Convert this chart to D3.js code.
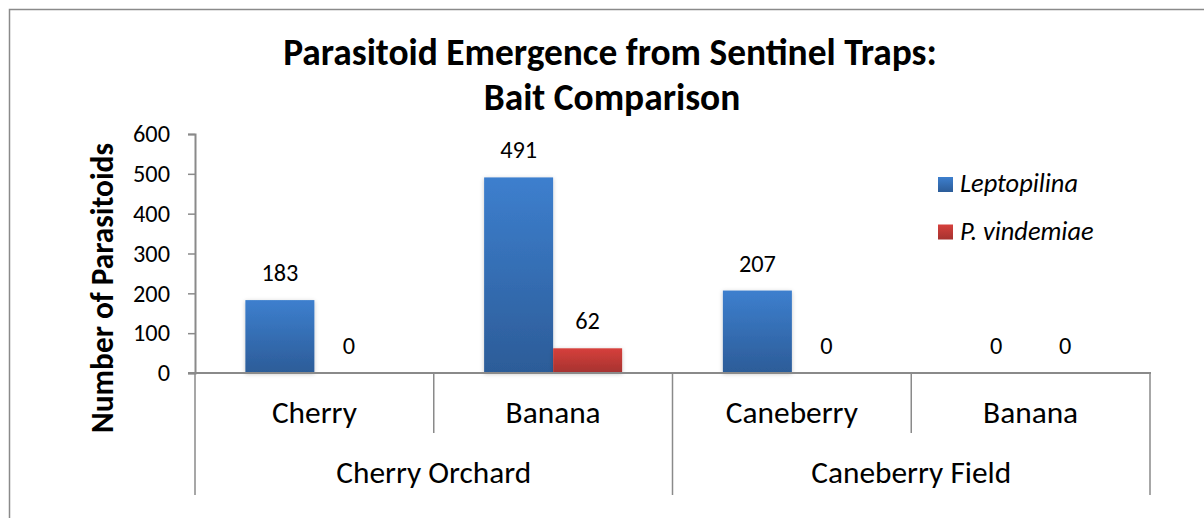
<!DOCTYPE html>
<meta charset="utf-8">
<style>

body {
  margin: 0;
  background: #fff;
}

text {
  font-family: Carlito, Calibri, Lato, sans-serif;
  fill: #000;
}

</style>
<svg></svg>
<script src="https://d3js.org/d3.v7.min.js"></script>
<script>

var width = 1204,
    height = 518;

// chart values
var sites = ["Cherry Orchard", "Caneberry Field"];
var baits = ["Cherry", "Banana", "Caneberry", "Banana"];
var baitSite = [0, 0, 1, 1];
var seriesNames = ["Leptopilina", "P. vindemiae"];
var leptopilina = [183, 491, 207, 0];
var pVindemiae = [0, 62, 0, 0];
var yTicks = [0, 100, 200, 300, 400, 500, 600];

var plotLeft = 195, plotRight = 1150, plotTop = 134, plotBase = 373;

var svg = d3.select("svg")
    .attr("width", width)
    .attr("height", height);

// gradients + soft shadow like the office chart
var defs = svg.append("defs");
function grad(id, c1, c2) {
  var g = defs.append("linearGradient").attr("id", id)
      .attr("x1", 0).attr("y1", 0).attr("x2", 0).attr("y2", 1);
  g.append("stop").attr("offset", "0%").attr("stop-color", c1);
  g.append("stop").attr("offset", "100%").attr("stop-color", c2);
}
grad("gBlue", "#3d7fce", "#2c5c98");
grad("gRed", "#d6403c", "#a5322f");
defs.append("filter").attr("id", "shadow")
    .attr("x", "-20%").attr("y", "-20%").attr("width", "140%").attr("height", "140%")
  .append("feDropShadow")
    .attr("dx", 0).attr("dy", 1).attr("stdDeviation", 2)
    .attr("flood-color", "#000").attr("flood-opacity", 0.22);

var fills = ["url(#gBlue)", "url(#gRed)"];

// outer frame (runs off the right/bottom of the picture)
svg.append("rect")
    .attr("x", 9.5).attr("y", 9.5)
    .attr("width", 1400).attr("height", 700)
    .attr("fill", "none")
    .attr("stroke", "#8a8a8a")
    .attr("stroke-width", 1.5);

var x0 = d3.scaleBand()
    .domain(d3.range(baits.length))
    .range([plotLeft, plotRight]);

var x1 = d3.scaleBand()
    .domain(d3.range(seriesNames.length))
    .range([0, x0.bandwidth()])
    .paddingOuter(0.73);

var y = d3.scaleLinear()
    .domain([0, 600])
    .range([plotBase, plotTop]);

function fit(sel, w) {
  var l = sel.node().getComputedTextLength();
  var fs = parseFloat(sel.attr("font-size"));
  sel.attr("font-size", fs * w / l);
  return fs * w / l;
}

var probe = svg.append("text").attr("font-size", 20);
var numSize = fit(probe.text("183"), 37);
probe.attr("font-size", 20);
var catSize = fit(probe.text("Cherry"), 85);
probe.remove();

// title
var t1 = svg.append("text")
    .attr("x", 610).attr("y", 65)
    .attr("text-anchor", "middle")
    .attr("font-weight", "bold")
    .attr("font-size", 30)
    .text("Parasitoid Emergence from Sentinel Traps:");
var titleSize = fit(t1, 654);
svg.append("text")
    .attr("x", 612).attr("y", 110)
    .attr("text-anchor", "middle")
    .attr("font-weight", "bold")
    .attr("font-size", titleSize)
    .text("Bait Comparison");

// y axis title
var yt = svg.append("text")
    .attr("transform", "translate(113,288) rotate(-90)")
    .attr("text-anchor", "middle")
    .attr("font-weight", "bold")
    .attr("font-size", 26)
    .text("Number of Parasitoids");
fit(yt, 290);

// y axis
var yAxis = svg.append("g")
    .attr("transform", "translate(" + plotLeft + ",0)")
    .call(d3.axisLeft(y).tickValues(yTicks).tickSize(7).tickPadding(18).tickFormat(d3.format("d")));
yAxis.select(".domain").attr("stroke", "#8a8a8a").attr("stroke-width", 2);
yAxis.selectAll(".tick line").attr("stroke", "#8a8a8a").attr("stroke-width", 1.5);
yAxis.selectAll(".tick text")
    .attr("font-family", "Carlito, Calibri, Lato, sans-serif")
    .attr("font-size", numSize)
    .attr("fill", "#000");

// bars
var cats = svg.append("g").selectAll("g")
    .data(baits.map(function(d, i) { return [leptopilina[i], pVindemiae[i]]; }))
    .enter().append("g")
    .attr("transform", function(d, i) { return "translate(" + x0(i) + ",0)"; });

cats.selectAll("rect")
    .data(function(d) { return d; })
    .enter().append("rect")
    .attr("x", function(d, j) { return x1(j); })
    .attr("y", function(d) { return y(d); })
    .attr("width", x1.bandwidth())
    .attr("height", function(d) { return plotBase - y(d); })
    .attr("fill", function(d, j) { return fills[j]; })
    .attr("filter", "url(#shadow)");

cats.selectAll("text")
    .data(function(d) { return d; })
    .enter().append("text")
    .attr("x", function(d, j) { return x1(j) + x1.bandwidth() / 2; })
    .attr("y", function(d) { return y(d) - 19; })
    .attr("text-anchor", "middle")
    .attr("font-size", numSize)
    .text(function(d) { return d; });

// baseline and grouped category axis
svg.append("line")
    .attr("x1", plotLeft - 7).attr("x2", plotRight + 1)
    .attr("y1", plotBase).attr("y2", plotBase)
    .attr("stroke", "#8a8a8a").attr("stroke-width", 2);

var bounds = d3.range(baits.length + 1);
svg.append("g").selectAll("line")
    .data(bounds)
    .enter().append("line")
    .attr("x1", function(i) { return i < baits.length ? x0(i) : plotRight; })
    .attr("x2", function(i) { return i < baits.length ? x0(i) : plotRight; })
    .attr("y1", plotBase)
    .attr("y2", function(i) {
      var edge = i == 0 || i == baits.length || baitSite[i] != baitSite[i - 1];
      return edge ? 495 : 433;
    })
    .attr("stroke", "#8a8a8a").attr("stroke-width", 1.5);

svg.append("g").selectAll("text")
    .data(baits)
    .enter().append("text")
    .attr("x", function(d, i) { return x0(i) + x0.bandwidth() / 2; })
    .attr("y", 423)
    .attr("text-anchor", "middle")
    .attr("font-size", catSize)
    .text(function(d) { return d; });

svg.append("g").selectAll("text")
    .data(sites)
    .enter().append("text")
    .attr("x", function(d, s) {
      var idx = d3.range(baits.length).filter(function(i) { return baitSite[i] == s; });
      return (x0(idx[0]) + x0(idx[idx.length - 1]) + x0.bandwidth()) / 2;
    })
    .attr("y", 483)
    .attr("text-anchor", "middle")
    .attr("font-size", catSize)
    .text(function(d) { return d; });

// legend
var legend = svg.append("g").selectAll("g")
    .data(seriesNames)
    .enter().append("g")
    .attr("transform", function(d, i) { return "translate(938," + (177 + i * 47.5) + ")"; });

legend.append("rect")
    .attr("width", 15).attr("height", 15)
    .attr("fill", function(d, i) { return fills[i]; });

var lt = legend.append("text")
    .attr("x", 22).attr("y", 15)
    .attr("font-style", "italic")
    .attr("font-size", 22)
    .text(function(d) { return d; });
var legSize = fit(d3.select(lt.nodes()[0]), 118);
lt.attr("font-size", legSize);

</script>
